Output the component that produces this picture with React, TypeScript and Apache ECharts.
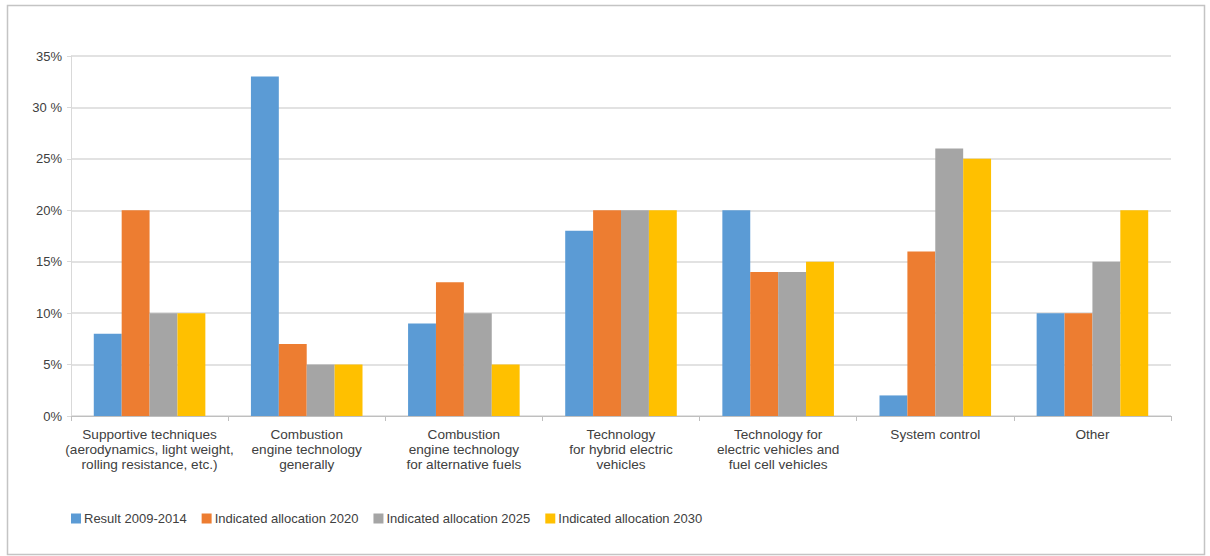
import React, { useEffect, useRef } from "react";
import * as echarts from "echarts";

const categories = [
  "Supportive techniques\n(aerodynamics, light weight,\nrolling resistance, etc.)",
  "Combustion\nengine technology\ngenerally",
  "Combustion\nengine technology\nfor alternative fuels",
  "Technology\nfor hybrid electric\nvehicles",
  "Technology for\nelectric vehicles and\nfuel cell vehicles",
  "System control",
  "Other",
];
const result2009_2014 = [8, 33, 9, 18, 20, 2, 10];
const alloc2020 = [20, 7, 13, 20, 14, 16, 10];
const alloc2025 = [10, 5, 10, 20, 14, 26, 15];
const alloc2030 = [10, 5, 5, 20, 15, 25, 20];
const seriesNames = [
  "Result 2009-2014",
  "Indicated allocation 2020",
  "Indicated allocation 2025",
  "Indicated allocation 2030",
];
const colors = ["#5b9bd5", "#ed7d31", "#a5a5a5", "#ffc000"];
const yTickLabels: Record<number, string> = {
  0: "0%",
  5: "5%",
  10: "10%",
  15: "15%",
  20: "20%",
  25: "25%",
  30: "30 %",
  35: "35%",
};

const FONT = "'Liberation Sans', Arial, sans-serif";

export default function App() {
  const ref = useRef<HTMLDivElement>(null);
  useEffect(() => {
    if (!ref.current) return;
    const chart = echarts.init(ref.current, undefined, { renderer: "svg" });
    const data = [result2009_2014, alloc2020, alloc2025, alloc2030];
    chart.setOption({
      animation: false,
      color: colors,
      textStyle: { fontFamily: FONT },
      graphic: [
        {
          type: "rect",
          shape: { x: 7.5, y: 5.5, width: 1197, height: 549 },
          style: { fill: "none", stroke: "#c4c4c4", lineWidth: 1.5 },
          silent: true,
        },
      ],
      grid: { left: 71, right: 39, top: 56, bottom: 140, containLabel: false },
      legend: {
        left: 66,
        top: 507,
        itemWidth: 10,
        itemHeight: 10,
        itemGap: 15,
        icon: "rect",
        textStyle: { fontSize: 13, color: "#404040", fontFamily: FONT, padding: [0, 0, 0, -2] },
        data: seriesNames,
      },
      xAxis: {
        type: "category",
        data: categories,
        axisLine: { lineStyle: { color: "#bfbfbf", width: 1 } },
        axisTick: { show: true, length: 5, lineStyle: { color: "#bfbfbf" } },
        axisLabel: {
          interval: 0,
          color: "#404040",
          fontSize: 13.6,
          lineHeight: 15,
          margin: 11,
          fontFamily: FONT,
        },
      },
      yAxis: {
        type: "value",
        min: 0,
        max: 35,
        interval: 5,
        axisLine: { show: true, lineStyle: { color: "#d9d9d9" } },
        axisTick: { show: true, length: 4, lineStyle: { color: "#d9d9d9" } },
        splitLine: { lineStyle: { color: "#d9d9d9", width: 1.5 } },
        axisLabel: {
          color: "#404040",
          fontSize: 13,
          margin: 9,
          fontFamily: FONT,
          formatter: (v: number) => yTickLabels[v] ?? `${v}%`,
        },
      },
      series: seriesNames.map((name, i) => ({
        name,
        type: "bar",
        data: data[i],
        barGap: "0%",
        barCategoryGap: "29%",
        itemStyle: { color: colors[i] },
      })),
    });
    return () => chart.dispose();
  }, []);
  return (
    <div
      ref={ref}
      style={{ position: "absolute", left: 0, top: 0, width: 1210, height: 556, background: "#fff" }}
    />
  );
}
